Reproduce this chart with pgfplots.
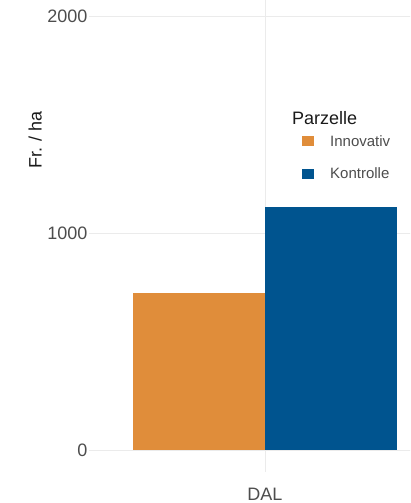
\documentclass[border=0pt]{standalone}
\usepackage{pgfplots}
\pgfplotsset{compat=1.18}
\usepackage{fontspec}
\setmainfont{Liberation Sans}
\definecolor{innov}{HTML}{E08D3A}
\definecolor{kontr}{HTML}{00548F}
\definecolor{gridgray}{HTML}{EBEBEB}
\definecolor{ticktext}{HTML}{4D4D4D}
\definecolor{titletext}{HTML}{1A1A1A}

\begin{document}
\begin{tikzpicture}[x=1pt,y=1pt]
\useasboundingbox (0,0) rectangle (410,503);
\clip (0,0) rectangle (410,503);
\begin{axis}[
  at={(89pt,31.3pt)}, anchor=south west,
  scale only axis, width=352pt, height=477.4pt,
  xmin=0.4, xmax=1.6, ymin=-100, ymax=2100,
  ybar, bar width=0.45,
  xtick={1}, xticklabels={DAL},
  ytick={0,1000,2000},
  scaled y ticks=false,
  /pgf/number format/1000 sep={},
  /pgf/number format/assume math mode=true,
  grid=major, major grid style={gridgray, line width=0.9pt},
  axis line style={draw=none}, major tick length=0pt,
  tick label style={font=\fontsize{18}{21}\selectfont, text=ticktext},
  yticklabel style={inner sep=0pt, xshift=-1.5pt},
  xticklabel style={inner sep=0pt, yshift=-16.3pt},
  ylabel={Fr. / ha},
  ylabel style={at={(rel axis cs:-0.153,0.695)}, anchor=center,
    font=\fontsize{18}{21}\selectfont, text=titletext},
  legend style={at={(0.605,0.7095)}, anchor=north west, draw=none, fill=none,
    font=\fontsize{15}{18}\selectfont, text=ticktext, row sep=16pt,
    inner sep=0pt},
  legend cell align=left,
  legend image code/.code={\fill[#1] (0pt,-5pt) rectangle (12pt,5pt);
    \path (26pt,0pt);},
]
\addplot[fill=innov, draw=none, bar shift=-0.225] coordinates {(1,723)};
\addlegendentry{Innovativ}
\addplot[fill=kontr, draw=none, bar shift=0.225] coordinates {(1,1120)};
\addlegendentry{Kontrolle}
\node[anchor=base west, inner sep=0pt, font=\fontsize{18}{21}\selectfont,
  text=titletext] at (rel axis cs:0.5767,0.7283) {Parzelle};
\end{axis}
\end{tikzpicture}
\end{document}
